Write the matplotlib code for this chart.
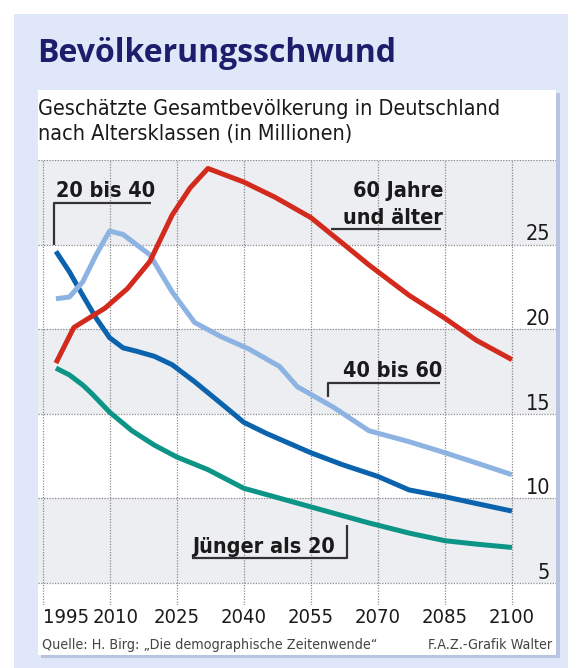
import matplotlib
matplotlib.use("Agg")
import matplotlib.pyplot as plt
from matplotlib import font_manager
from matplotlib.patches import Rectangle

# --- data (millions) ---
years_60plus = [1998, 2002, 2009, 2014, 2019, 2024, 2028, 2032, 2040, 2047,
                2055, 2062, 2068, 2077, 2085, 2092, 2100]
pop_60plus = [18.0, 20.1, 21.25, 22.4, 24.0, 26.75, 28.35, 29.5, 28.7, 27.8,
              26.6, 25.1, 23.8, 22.0, 20.65, 19.35, 18.2]

years_40_60 = [1998, 2001, 2004, 2007, 2010, 2013, 2019, 2024, 2029, 2035,
               2041, 2048, 2052, 2060, 2068, 2077, 2085, 2092, 2100]
pop_40_60 = [21.8, 21.9, 22.8, 24.4, 25.8, 25.6, 24.4, 22.2, 20.4, 19.55,
             18.85, 17.8, 16.6, 15.4, 14.0, 13.35, 12.7, 12.1, 11.4]

years_20_40 = [1998, 2001, 2004, 2007, 2010, 2013, 2016, 2020, 2024, 2029,
               2035, 2040, 2045, 2055, 2062, 2070, 2077, 2085, 2092, 2100]
pop_20_40 = [24.6, 23.4, 22.0, 20.65, 19.5, 18.9, 18.7, 18.4, 17.9, 16.9,
             15.6, 14.5, 13.85, 12.7, 12.0, 11.3, 10.5, 10.1, 9.7, 9.25]

years_young = [1998, 2001, 2004, 2006, 2010, 2015, 2020, 2025, 2032, 2040,
               2055, 2068, 2077, 2085, 2092, 2100]
pop_young = [17.7, 17.3, 16.7, 16.2, 15.1, 14.0, 13.15, 12.45, 11.7, 10.6,
             9.5, 8.55, 7.95, 7.5, 7.3, 7.1]

x_ticks = [1995, 2010, 2025, 2040, 2055, 2070, 2085, 2100]
y_ticks = [5, 10, 15, 20, 25]

# colours
RED = "#d32a1e"
DARK = "#0b62ad"
LIGHT = "#8db3e2"
TEAL = "#0c9486"
NAVY = "#1c1d6b"
PANEL = "#dfe7f9"
BAND = "#eceef1"

avail = {f.name for f in font_manager.fontManager.ttflist}
NARROW = "Liberation Sans Narrow" if "Liberation Sans Narrow" in avail else "DejaVu Sans"
nf = dict(family=NARROW, stretch="condensed")

W, H = 577, 668
fig = plt.figure(figsize=(W / 100, H / 100), dpi=100)
fig.patch.set_facecolor("white")


def box(x0, y0, x1, y1, color, z=0):
    # pixel box (top-left origin) -> figure fraction
    fig.add_artist(Rectangle((x0 / W, 1 - y1 / H), (x1 - x0) / W, (y1 - y0) / H,
                             transform=fig.transFigure, color=color, lw=0, zorder=z))


box(14, 14, 568, 668, PANEL, 0)
box(41, 93, 560, 658, "#b9c5e0", 1)
box(38, 90, 556, 655, "white", 2)

fig.text(37 / W, 1 - 62 / H, "Bevölkerungsschwund", family="Open Sans",
         weight="bold", fontsize=23, color=NAVY, va="baseline")
fig.text(38 / W, 1 - 115 / H, "Geschätzte Gesamtbevölkerung in Deutschland",
         fontsize=15.5, color="#1a1a1a", va="baseline", zorder=5, **nf)
fig.text(38 / W, 1 - 140 / H, "nach Altersklassen (in Millionen)",
         fontsize=15.5, color="#1a1a1a", va="baseline", zorder=5, **nf)

ax = fig.add_axes([38 / W, (H - 605) / H, 518 / W, 445 / H])
ax.set_zorder(3)
ax.patch.set_alpha(0)
ax.set_xlim(1993.99, 2109.85)
ax.set_ylim(3.7, 30)
for s in ax.spines.values():
    s.set_visible(False)
ax.set_xticks([])
ax.set_yticks([])

for lo in (5, 15, 25):
    ax.axhspan(lo, lo + 5, color=BAND, lw=0, zorder=0)
for v in y_ticks + [30]:
    ax.axhline(v, color="#8a8a8a", lw=0.9, ls=(0, (1, 1.2)), zorder=1)
for yr in x_ticks:
    ax.axvline(yr, color="#8a8a8a", lw=0.9, ls=(0, (1, 1.2)), zorder=1)

lw = 3.6
ax.plot(years_young, pop_young, color=TEAL, lw=lw, solid_capstyle="butt",
        solid_joinstyle="round", zorder=4)
ax.plot(years_20_40, pop_20_40, color=DARK, lw=lw, solid_capstyle="butt",
        solid_joinstyle="round", zorder=4)
ax.plot(years_40_60, pop_40_60, color=LIGHT, lw=lw, solid_capstyle="butt",
        solid_joinstyle="round", zorder=4)
ax.plot(years_60plus, pop_60plus, color=RED, lw=lw, solid_capstyle="butt",
        solid_joinstyle="round", zorder=5)

# tick labels (first two nudged right, as in the original layout)
for i, yr in enumerate(x_ticks):
    ha = "left" if i == 0 else "center"
    shift = 1.3 if i == 1 else 0
    ax.text(yr + shift, 2.64, str(yr), ha=ha, va="baseline", fontsize=14.5,
            color="#1a1a1a", clip_on=False, **nf)
for v in y_ticks:
    ax.text(2108.5, v + 0.25, str(v), ha="right", va="baseline", fontsize=15.5,
            color="#1a1a1a", **nf)

# series labels
lab = dict(fontsize=15.5, weight="bold", color="#1a1a1a", va="baseline", **nf)
con = dict(color="#333333", lw=1.6, solid_capstyle="butt", zorder=6)

ax.text(1998.0, 27.81, "20 bis 40", ha="left", **lab)
ax.plot([1997.6, 1997.6, 2019.3], [24.98, 27.46, 27.46], **con)

ax.text(2084.6, 27.81, "60 Jahre", ha="right", **lab)
ax.text(2084.6, 26.22, "und älter", ha="right", **lab)
ax.plot([2059.5, 2084.2], [25.92, 25.92], **con)

ax.text(2084.4, 17.17, "40 bis 60", ha="right", **lab)
ax.plot([2058.9, 2058.9, 2083.8], [15.99, 16.82, 16.82], **con)

ax.text(2028.4, 6.77, "Jünger als 20", ha="left", **lab)
ax.plot([2028.4, 2063.1, 2063.1], [6.48, 6.48, 8.43], **con)

# footer
fig.text(42 / W, 1 - 649 / H, "Quelle: H. Birg: \u201eDie demographische Zeitenwende\u201c",
         fontsize=10.3, color="#444444", va="baseline", zorder=5, **nf)
fig.text(552 / W, 1 - 649 / H, "F.A.Z.-Grafik Walter", fontsize=10.3,
         color="#444444", va="baseline", ha="right", zorder=5, **nf)

fig.savefig("out.png", dpi=100)
